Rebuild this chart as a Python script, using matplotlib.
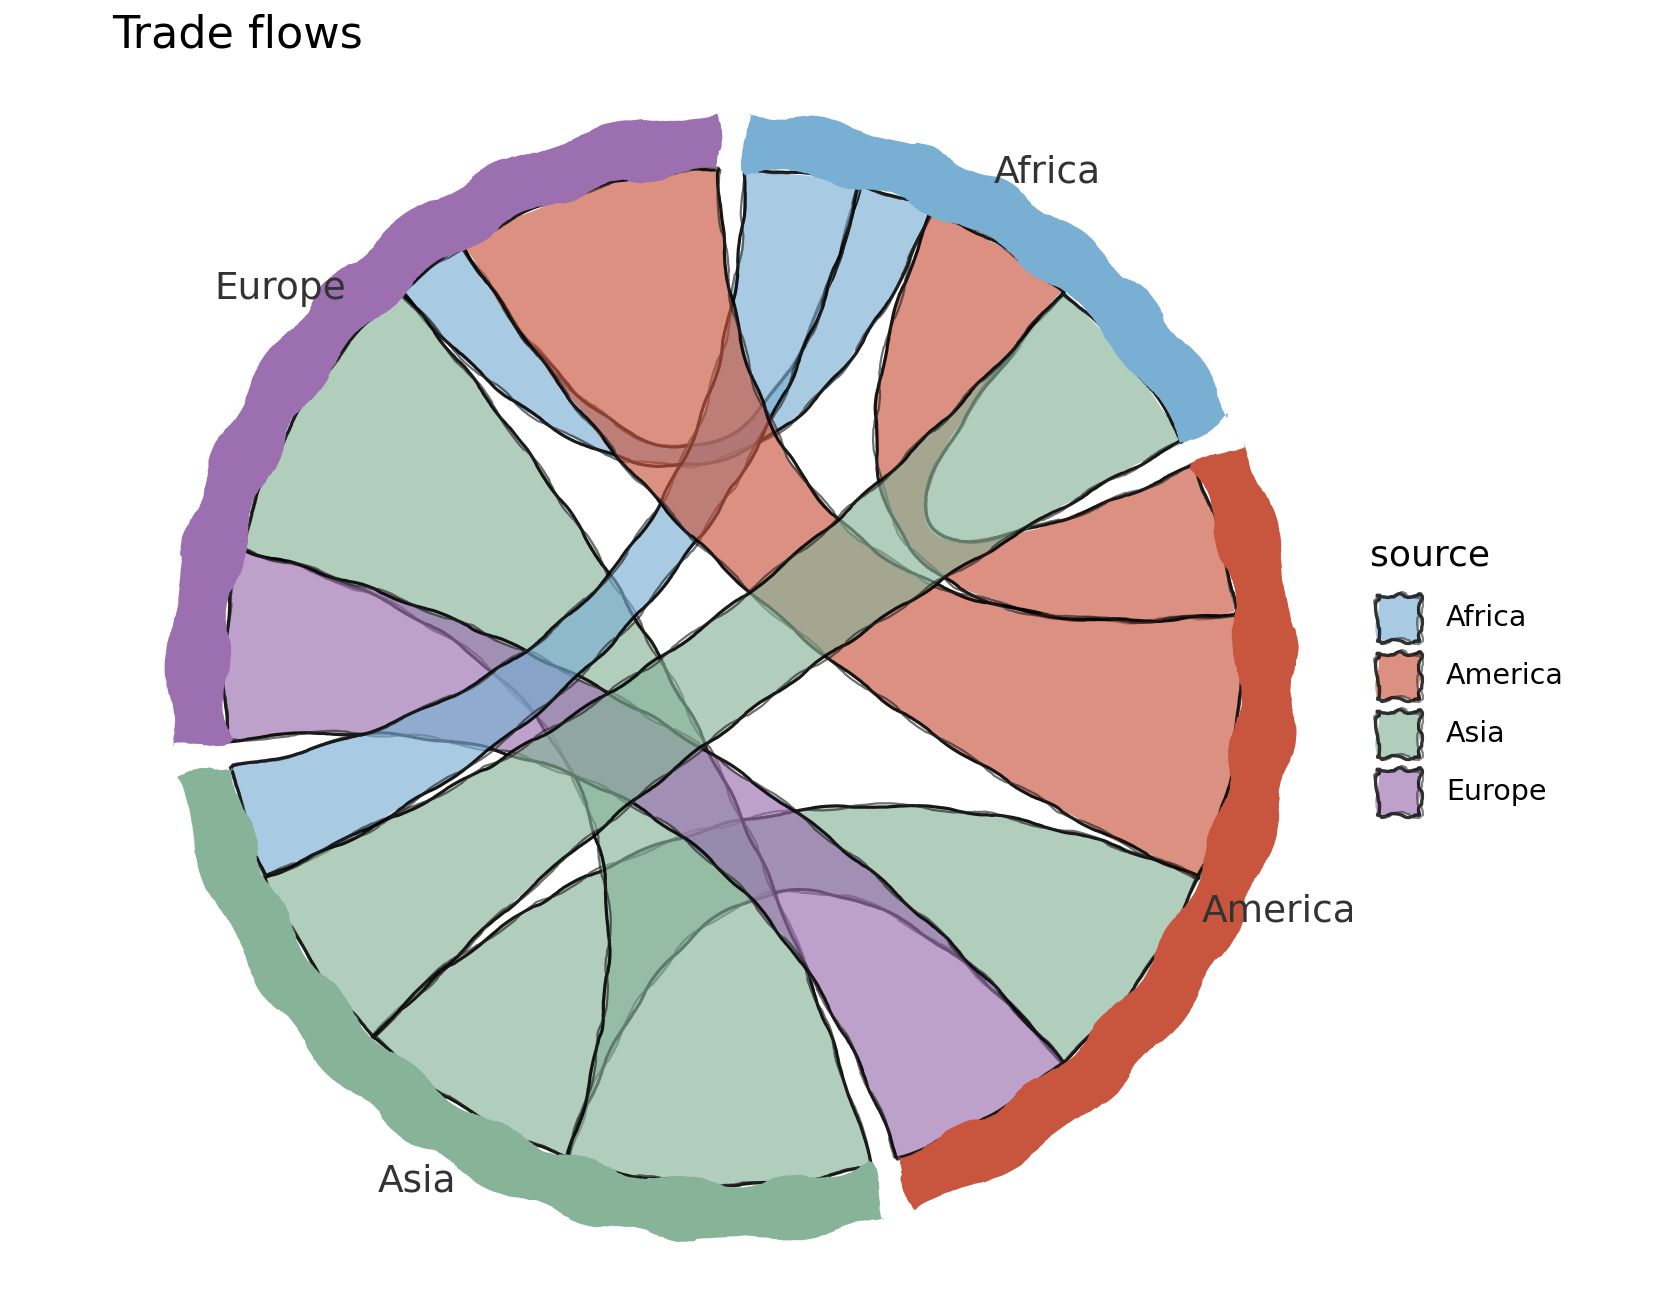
import numpy as np
import matplotlib.pyplot as plt
from matplotlib.patches import Polygon

# regions and their colours
regions = ["Africa", "America", "Asia", "Europe"]
region_colours = ["#7aafd4", "#c8553e", "#87b398", "#9b6fb0"]

# flows (source -> target)
source = ["Africa", "Africa", "America", "America", "Asia", "Asia", "Asia", "Europe"]
target = ["Asia", "Europe", "Africa", "Europe", "Africa", "America", "Europe", "America"]
value = [3, 2, 4, 7, 5, 6, 8, 5]

# order of the link ends along each arc, going clockwise
arc_order = {
    "Africa": [0, 1, 2, 4],
    "America": [2, 3, 5, 7],
    "Asia": [6, 5, 4, 0],
    "Europe": [7, 6, 1, 3],
}
# stacking order of the ribbons (first is at the bottom)
draw_order = [1, 2, 5, 6, 7, 0, 3, 4]

W, H = 1680, 1296
R_IN, R_OUT, R_LAB = 508, 563, 595
gap = 3.0
unit = (360 - gap * len(regions)) / (2 * sum(value))
col = dict(zip(regions, region_colours))


def pt(a, r):
    a = np.radians(a)
    return np.array([r * np.sin(a), r * np.cos(a)])


def arc(a0, a1, r, n=60):
    a = np.radians(np.linspace(a0, a1, n))
    return np.column_stack([r * np.sin(a), r * np.cos(a)])


def bez(p0, p1, n=80):
    t = np.linspace(0, 1, n)[:, None]
    return (1 - t) ** 2 * p0 + t ** 2 * p1


# angles of every link end and of every arc
ends = {}
spans = {}
ang = gap / 2
for reg in regions:
    a_start = ang
    for k in arc_order[reg]:
        w = value[k] * unit
        ends[(k, reg)] = (ang, ang + w)
        ang += w
    spans[reg] = (a_start, ang)
    ang += gap

fig = plt.figure(figsize=(W / 100, H / 100), dpi=100)
ax = fig.add_axes([112 / W, 0, 1240 / W, 1240 / H])
ax.set_xlim(-620, 620)
ax.set_ylim(-619, 621)
ax.set_aspect("equal")
ax.axis("off")

# chords
for k in draw_order:
    s0, s1 = ends[(k, source[k])]
    t0, t1 = ends[(k, target[k])]
    pts = np.vstack([
        arc(s0, s1, R_IN),
        bez(pt(s1, R_IN), pt(t0, R_IN)),
        arc(t0, t1, R_IN),
        bez(pt(t1, R_IN), pt(s0, R_IN)),
    ])
    fill = Polygon(pts, closed=True, facecolor=col[source[k]], alpha=0.65,
                   edgecolor="none", zorder=2)
    fill.set_sketch_params(1.5, 150, 6)
    ax.add_patch(fill)
    closed = np.vstack([pts, pts[:1]])
    l1, = ax.plot(closed[:, 0], closed[:, 1], color="black", lw=2.3,
                  alpha=0.9, zorder=2)
    l1.set_sketch_params(1.5, 140, 6)
    l2, = ax.plot(closed[:, 0], closed[:, 1], color="#222222", lw=1.6,
                  alpha=0.65, zorder=2)
    l2.set_sketch_params(2.5, 200, 10)

# outer arcs and labels
for reg in regions:
    a0, a1 = spans[reg]
    band = np.vstack([arc(a0, a1, R_OUT, 120), arc(a1, a0, R_IN - 2, 120)])
    p = Polygon(band, closed=True, facecolor=col[reg], edgecolor="none", zorder=5)
    p.set_sketch_params(4.5, 220, 10)
    ax.add_patch(p)
    x, y = pt((a0 + a1) / 2, R_LAB)
    ax.text(x, y, reg, ha="center", va="center", fontsize=27, color="#333333",
            clip_on=True, zorder=6)

fig.text(112 / W, 1 - 35 / H, "Trade flows", fontsize=32, ha="left", va="center")

# legend
lax = fig.add_axes([0, 0, 1, 1])
lax.set_xlim(0, W)
lax.set_ylim(H, 0)
lax.axis("off")
lax.text(1370, 556, "source", fontsize=26, ha="left", va="center")
for i, reg in enumerate(regions):
    yc = 618 + i * 58
    sq = np.array([[1377, yc - 23], [1420, yc - 23], [1420, yc + 23], [1377, yc + 23]])
    key = Polygon(sq, closed=True, facecolor=col[reg], alpha=0.65, edgecolor="none")
    key.set_sketch_params(2, 40, 6)
    lax.add_patch(key)
    sqc = np.vstack([sq, sq[:1]])
    k1, = lax.plot(sqc[:, 0], sqc[:, 1], color="black", lw=2.4, alpha=0.8)
    k1.set_sketch_params(2, 50, 8)
    k2, = lax.plot(sqc[:, 0], sqc[:, 1], color="#333333", lw=1.6, alpha=0.6)
    k2.set_sketch_params(3, 70, 10)
    lax.text(1446, yc, reg, fontsize=20.5, ha="left", va="center")

fig.savefig("out.png", dpi=100)
